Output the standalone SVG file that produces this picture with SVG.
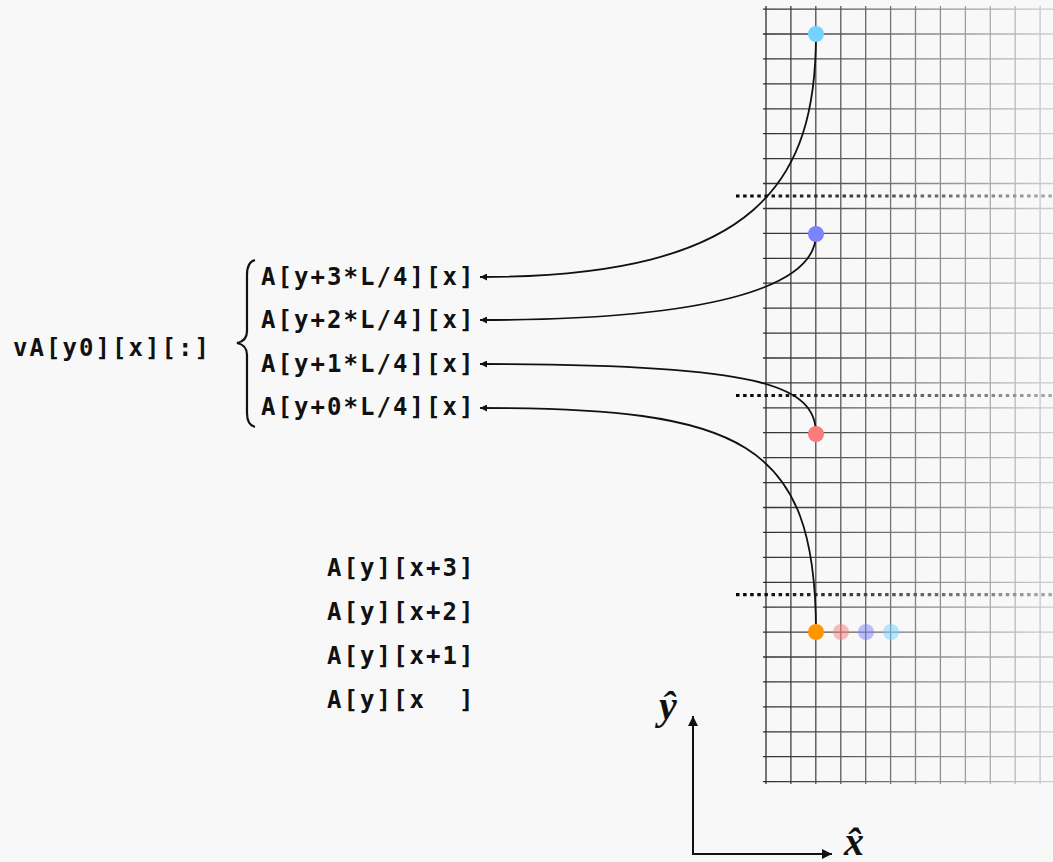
<svg xmlns="http://www.w3.org/2000/svg" width="1053" height="862" viewBox="0 0 1053 862">
  <defs>
    <linearGradient id="gridFade" gradientUnits="userSpaceOnUse" x1="763" y1="0" x2="1053" y2="0">
      <stop offset="0" stop-color="#2e2e2e"/>
      <stop offset="1" stop-color="#cfcfcf"/>
    </linearGradient>
    <linearGradient id="splitFade" gradientUnits="userSpaceOnUse" x1="736" y1="0" x2="1053" y2="0">
      <stop offset="0" stop-color="#000"/>
      <stop offset="1" stop-color="#a8a8a8"/>
    </linearGradient>
    <marker id="tip" viewBox="0 0 10 10" refX="10" refY="5" markerUnits="userSpaceOnUse" markerWidth="8" markerHeight="7" orient="auto">
      <path d="M0,0 L10,5 L0,10 z" fill="#111"/>
    </marker>
    <marker id="axisTip" viewBox="0 0 10 10" refX="10" refY="5" markerUnits="userSpaceOnUse" markerWidth="12" markerHeight="10" orient="auto">
      <path d="M0,0 L10,5 L0,10 z" fill="#111"/>
    </marker>
  </defs>
  <style>
    .code { font-family: "DejaVu Sans Mono", "Liberation Mono", monospace; font-weight: bold; font-size: 24px; letter-spacing: 2.05px; fill: #111; white-space: pre; }
    .axis-label { font-family: "Liberation Serif", "DejaVu Serif", serif; font-style: italic; font-weight: bold; font-size: 40px; fill: #111; }
    .grid { stroke: url(#gridFade); stroke-width: 1.3; fill: none; }
    .split { stroke: url(#splitFade); stroke-width: 3.2; stroke-dasharray: 3.5 3.6; fill: none; }
    .link { stroke: #111; stroke-width: 1.8; fill: none; marker-end: url(#tip); }
    .axis { stroke: #111; stroke-width: 2; fill: none; marker-end: url(#axisTip); }
    .faded { opacity: 0.5; }
  </style>

  <rect width="1053" height="862" fill="#f8f8f8"/>

  <!-- memory grid, one cell per element -->
  <g id="grid">
    <path class="grid" d="M763,9.1H1053M763,34H1053M763,58.9H1053M763,83.9H1053M763,108.8H1053M763,133.7H1053M763,158.6H1053M763,183.5H1053M763,208.5H1053M763,233.4H1053M763,258.3H1053M763,283.2H1053M763,308.1H1053M763,333.1H1053M763,358H1053M763,382.9H1053M763,407.8H1053M763,432.7H1053M763,457.7H1053M763,482.6H1053M763,507.5H1053M763,532.4H1053M763,557.3H1053M763,582.3H1053M763,607.2H1053M763,632.1H1053M763,657H1053M763,681.9H1053M763,706.9H1053M763,731.8H1053M763,756.7H1053M763,781.6H1053"/>
    <path class="grid" d="M766,6V784M790.9,6V784M815.8,6V784M840.8,6V784M865.7,6V784M890.6,6V784M915.5,6V784M940.4,6V784M965.4,6V784M990.3,6V784M1015.2,6V784M1040.1,6V784"/>
  </g>

  <!-- quarter boundaries of the column -->
  <g id="splits">
    <path class="split" d="M736,196H1053"/>
    <path class="split" d="M736,395.5H1053"/>
    <path class="split" d="M736,594.7H1053"/>
  </g>

  <!-- connectors from sampled elements to lane labels -->
  <g id="connectors">
    <path class="link" d="M816,34 C816,180 760,277 480,277"/>
    <path class="link" d="M816,234 C816,290 700,320 480,320"/>
    <path class="link" d="M816,434 C816,385 760,364 480,364"/>
    <path class="link" d="M816,632 C816,440 740,408 480,408"/>
  </g>

  <!-- sampled elements -->
  <g id="elem-q3"><circle cx="816" cy="34" r="8" fill="#73d3fe"/></g>
  <g id="elem-q2"><circle cx="816" cy="234" r="8" fill="#7a84fb"/></g>
  <g id="elem-q1"><circle cx="816" cy="434" r="8" fill="#f97b7b"/></g>
  <g id="elem-q0"><circle cx="816" cy="632" r="8" fill="#ff9500"/></g>
  <g id="row-neighbours" class="faded">
    <circle cx="841" cy="632" r="8" fill="#f97b7b"/>
    <circle cx="866" cy="632" r="8" fill="#7a84fb"/>
    <circle cx="891" cy="632" r="8" fill="#73d3fe"/>
  </g>

  <!-- vector register and its lanes -->
  <g id="vector-label">
    <text class="code" x="13" y="356">vA[y0][x][:]</text>
  </g>
  <g id="brace">
    <path d="M255,260 Q247,262 247,275 L247,331 Q247,341 237,343 Q247,345 247,355 L247,413 Q247,425 255,427" fill="none" stroke="#111" stroke-width="2.2"/>
  </g>
  <g id="lanes">
    <text class="code" x="261" y="285">A[y+3*L/4][x]</text>
    <text class="code" x="261" y="328">A[y+2*L/4][x]</text>
    <text class="code" x="261" y="372">A[y+1*L/4][x]</text>
    <text class="code" x="261" y="415">A[y+0*L/4][x]</text>
  </g>

  <!-- contiguous row elements -->
  <g id="row-labels">
    <text class="code" x="327" y="576">A[y][x+3]</text>
    <text class="code" x="327" y="620">A[y][x+2]</text>
    <text class="code" x="327" y="664">A[y][x+1]</text>
    <text class="code" x="327" y="708">A[y][x  ]</text>
  </g>

  <!-- axes -->
  <g id="axes">
    <path class="axis" d="M693,854 V716"/>
    <path class="axis" d="M692,854 H832"/>
    <text class="axis-label" x="659" y="719">ŷ</text>
    <text class="axis-label" x="844" y="855">x̂</text>
  </g>
</svg>
